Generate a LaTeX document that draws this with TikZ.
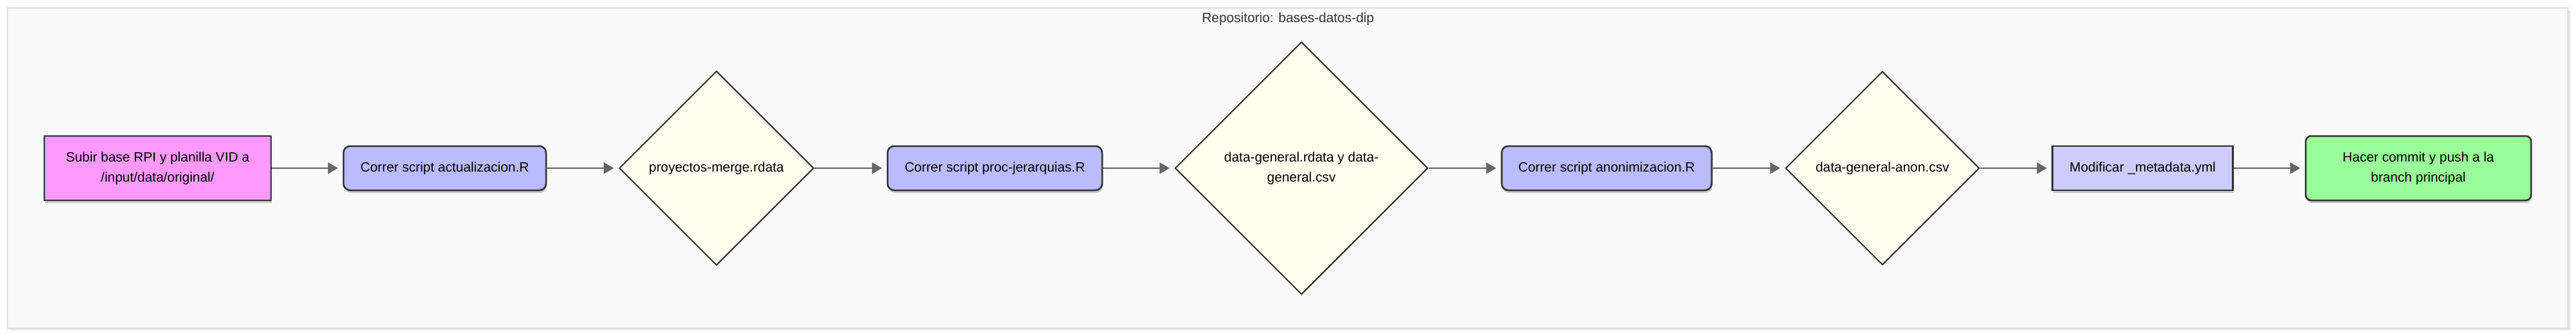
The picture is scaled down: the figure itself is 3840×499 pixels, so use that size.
\documentclass[tikz,border=0pt]{standalone}
\usepackage{fontspec}
\setmainfont{Liberation Sans}
\usetikzlibrary{shapes.geometric, arrows.meta, shadows}
\definecolor{DarkGray}{HTML}{333333}
\definecolor{ArrowGray}{HTML}{666666}
\definecolor{FrameGray}{HTML}{DDDDDD}
\definecolor{FrameFill}{HTML}{FAFAFA}
\definecolor{InputPink}{HTML}{FF99FF}
\definecolor{ScriptBlue}{HTML}{BBBBFF}
\definecolor{MetaLilac}{HTML}{CCCCFF}
\definecolor{FileYellow}{HTML}{FEFFEE}
\definecolor{PushGreen}{HTML}{99FF99}

\begin{document}
\begin{tikzpicture}[x=1pt, y=-1pt,
  every node/.style={font=\fontsize{20}{30}\selectfont, text=black, align=center},
  box/.style={draw=DarkGray, line width=2.5pt, minimum height=66pt, inner sep=0pt,
    drop shadow={shadow xshift=1pt, shadow yshift=-4pt, opacity=0.2, fill=black}},
  script/.style={box, fill=ScriptBlue, rounded corners=10pt},
  file/.style={diamond, shape aspect=1, draw=DarkGray, line width=2pt, fill=FileYellow, inner sep=0pt},
  flow/.style={draw=ArrowGray, line width=1.8pt, -{Triangle[length=15pt, width=17pt]}, shorten >=7pt}]
\useasboundingbox (0,0) rectangle (3840,499);

% Repository frame
\fill[FrameGray!70] (14,16) rectangle (3832,493);
\draw[FrameGray, fill=FrameFill, line width=1.5pt] (11,12) rectangle (3828,490);
\node[text=DarkGray] (titulo) at (1920,28) {Repositorio: bases-datos-dip};

% Input
\node[box, fill=InputPink, minimum width=338pt, minimum height=96pt] (subir) at (235,251)
  {Subir base RPI y planilla VID a\\/input/data/original/};

% Scripts and files
\node[script, minimum width=302pt] (actualizacion) at (663,251) {Correr script actualizacion.R};
\node[file, minimum width=290pt, minimum height=290pt] (merge) at (1068,251) {proyectos-merge.rdata};
\node[script, minimum width=320pt] (jerarquias) at (1483,251) {Correr script proc-jerarquias.R};
\node[file, minimum width=377pt, minimum height=377pt] (general) at (1940,251)
  {data-general.rdata y data-\\general.csv};
\node[script, minimum width=313pt] (anonimizacion) at (2395,251) {Correr script anonimizacion.R};
\node[file, minimum width=289pt, minimum height=289pt] (anon) at (2806,251) {data-general-anon.csv};

% Metadata and push
\node[box, fill=MetaLilac, minimum width=269pt] (metadata) at (3194,251) {Modificar \_metadata.yml};
\node[box, fill=PushGreen, rounded corners=8pt, minimum width=336pt, minimum height=96pt] (commit) at (3605,251)
  {Hacer commit y push a la\\branch principal};

% Arrows
\draw[flow] (subir) -- (actualizacion);
\draw[flow] (actualizacion) -- (merge);
\draw[flow] (merge) -- (jerarquias);
\draw[flow] (jerarquias) -- (general);
\draw[flow] (general) -- (anonimizacion);
\draw[flow] (anonimizacion) -- (anon);
\draw[flow] (anon) -- (metadata);
\draw[flow] (metadata) -- (commit);

\end{tikzpicture}
\end{document}
